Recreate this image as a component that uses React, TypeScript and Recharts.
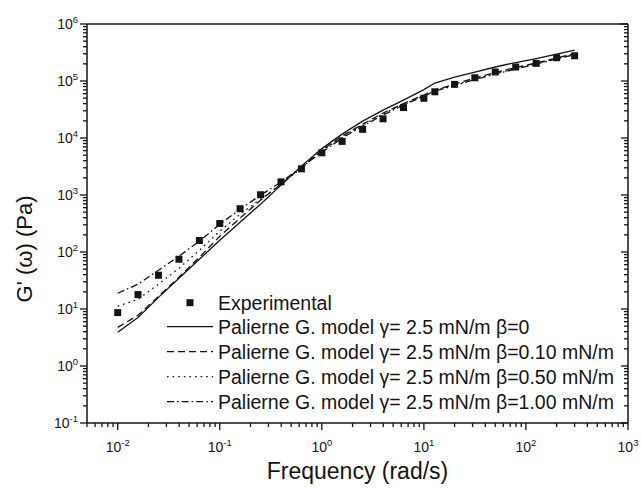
import { ComposedChart, Line, Scatter, XAxis, YAxis } from "recharts";

// angular frequency (rad/s)
const freq = [0.01, 0.0158, 0.0251, 0.0398, 0.0631, 0.1, 0.158, 0.251, 0.398, 0.631, 1, 1.58, 2.51, 3.98, 6.31, 10, 12.8, 20, 31.6, 50, 79.4, 126, 200, 300];

// G' (Pa)
const experimental = [8.65, 17.9, 39.1, 74.6, 159, 316, 575, 1010, 1700, 2880, 5500, 8710, 14200, 21700, 34200, 49800, 64700, 87300, 114000, 144000, 176000, 204000, 256000, 277000];
const beta0 = [3.9, 7.1, 16, 34.6, 74.6, 161, 333, 690, 1490, 3210, 6510, 11700, 19800, 30900, 46300, 70700, 92000, 117000, 143600, 176000, 211000, 248000, 297000, 349000];
const beta010 = [4.77, 7.74, 16.7, 36.1, 80.9, 189, 392, 811, 1550, 3080, 6120, 10800, 17500, 27400, 40200, 56600, 69300, 88300, 113000, 141000, 172000, 207000, 253000, 303000];
const beta050 = [11.2, 14.8, 27.2, 51.9, 107, 232, 461, 845, 1550, 2960, 5890, 10400, 16800, 26200, 39400, 55500, 67900, 84900, 108000, 135000, 165000, 199000, 248000, 297000];
const beta100 = [18.9, 27.2, 47.9, 84.3, 155, 307, 564, 993, 1680, 3080, 5650, 9950, 16200, 25200, 37800, 54400, 66600, 83200, 106000, 132000, 162000, 199000, 243000, 291000];

const legendNames = [
  "Experimental",
  "Palierne G. model γ= 2.5 mN/m β=0",
  "Palierne G. model γ= 2.5 mN/m β=0.10 mN/m",
  "Palierne G. model γ= 2.5 mN/m β=0.50 mN/m",
  "Palierne G. model γ= 2.5 mN/m β=1.00 mN/m",
];

const xDomain = [0.005, 1000];
const yDomain = [0.1, 1000000];
const xDecades = [-3, -2, -1, 0, 1, 2];
const yDecades = [-1, 0, 1, 2, 3, 4, 5];

const FONT = "'Liberation Sans', Arial, Helvetica, sans-serif";
const INK = "#141414";

const models = [
  { key: "b0", dash: undefined },
  { key: "b010", dash: "7 4" },
  { key: "b050", dash: "1.6 4" },
  { key: "b100", dash: "7 3 1.6 3" },
];

const data = freq.map((x, i) => ({
  x,
  exp: experimental[i],
  b0: beta0[i],
  b010: beta010[i],
  b050: beta050[i],
  b100: beta100[i],
}));

function logTicks(decades: number[], lo: number, hi: number) {
  const out: number[] = [];
  decades.forEach((d) => {
    for (let m = 1; m <= 9; m++) {
      const v = Number((m * Math.pow(10, d)).toPrecision(3));
      if (v >= lo - 1e-12 && v <= hi + 1e-9) out.push(v);
    }
  });
  out.push(hi);
  return Array.from(new Set(out));
}

const xTicks = logTicks(xDecades, xDomain[0], xDomain[1]);
const yTicks = logTicks(yDecades, yDomain[0], yDomain[1]);

function isMajor(v: number) {
  const l = Math.log10(v);
  return Math.abs(l - Math.round(l)) < 1e-6;
}

function Pow10({ x, y, exp, anchor }: any) {
  return (
    <text x={x} y={y} textAnchor={anchor} fontFamily={FONT} fill={INK} fontSize={14}>
      <tspan>10</tspan>
      <tspan dy={-6.5} fontSize={9.5}>{exp}</tspan>
    </text>
  );
}

function makeTick(side: "bottom" | "top" | "left" | "right") {
  return (props: any) => {
    const { x, y, payload } = props;
    const v = payload.value;
    const major = isMajor(v);
    const len = major ? 7 : 4;
    const exp = String(Math.round(Math.log10(v)));
    if (side === "bottom") {
      return (
        <g>
          <line x1={x} x2={x} y1={y} y2={y + len} stroke={INK} strokeWidth={1.3} />
          {major && v > xDomain[0] && <Pow10 x={x} y={y + 29} exp={exp} anchor="middle" />}
        </g>
      );
    }
    if (side === "top") {
      return <line x1={x} x2={x} y1={y} y2={y + len} stroke={INK} strokeWidth={1.3} />;
    }
    if (side === "left") {
      return (
        <g>
          <line x1={x - len} x2={x} y1={y} y2={y} stroke={INK} strokeWidth={1.3} />
          {major && <Pow10 x={x - 9} y={y + 5} exp={exp} anchor="end" />}
        </g>
      );
    }
    return <line x1={x - len} x2={x} y1={y} y2={y} stroke={INK} strokeWidth={1.3} />;
  };
}

const square = (p: any) => <rect x={p.cx - 3.5} y={p.cy - 3.5} width={7} height={7} fill={INK} />;

const axisLine = { stroke: INK, strokeWidth: 1.5 };

function Legend() {
  const rowY = [302.7, 326.7, 351.7, 376.7, 401.7];
  return (
    <svg width={641} height={489} style={{ position: "absolute", left: 0, top: 0, pointerEvents: "none" }}>
      {legendNames.map((name, i) => (
        <g key={name}>
          {i === 0 ? (
            <rect x={186.5} y={rowY[i] - 3.5} width={7} height={7} fill={INK} />
          ) : (
            <line x1={167} x2={213} y1={rowY[i]} y2={rowY[i]} stroke={INK} strokeWidth={1.3} strokeDasharray={models[i - 1].dash} />
          )}
          <text x={218} y={rowY[i] + 7} fontFamily={FONT} fontSize={19.5} fill={INK}>
            {name}
          </text>
        </g>
      ))}
    </svg>
  );
}

export default function App() {
  return (
    <div style={{ position: "absolute", left: 0, top: 0, width: 641, height: 489, background: "#fff" }}>
      <ComposedChart width={641} height={489} data={data} margin={{ top: 14, right: 3, bottom: 36, left: 27 }}>
        <XAxis
          dataKey="x"
          type="number"
          scale="log"
          domain={xDomain}
          ticks={xTicks}
          interval={0}
          allowDataOverflow
          height={30}
          tickSize={0}
          tickMargin={0}
          tickLine={false}
          axisLine={axisLine}
          tick={makeTick("bottom")}
        />
        <XAxis
          xAxisId="top"
          orientation="top"
          type="number"
          scale="log"
          domain={xDomain}
          ticks={xTicks}
          interval={0}
          allowDataOverflow
          height={10}
          tickSize={0}
          tickMargin={0}
          tickLine={false}
          axisLine={axisLine}
          tick={makeTick("top")}
        />
        <YAxis
          type="number"
          scale="log"
          domain={yDomain}
          ticks={yTicks}
          interval={0}
          allowDataOverflow
          width={60}
          tickSize={0}
          tickMargin={0}
          tickLine={false}
          axisLine={axisLine}
          tick={makeTick("left")}
        />
        <YAxis
          yAxisId="right"
          orientation="right"
          type="number"
          scale="log"
          domain={yDomain}
          ticks={yTicks}
          interval={0}
          allowDataOverflow
          width={10}
          tickSize={0}
          tickMargin={0}
          tickLine={false}
          axisLine={axisLine}
          tick={makeTick("right")}
        />
        {models.map((m) => (
          <Line
            key={m.key}
            dataKey={m.key}
            type="linear"
            stroke={INK}
            strokeWidth={1.3}
            strokeDasharray={m.dash}
            dot={false}
            activeDot={false}
            isAnimationActive={false}
          />
        ))}
        <Scatter dataKey="exp" shape={square} isAnimationActive={false} />
        <text x={357.5} y={479} textAnchor="middle" fontFamily={FONT} fontSize={23} fill={INK}>
          Frequency (rad/s)
        </text>
        <text transform="translate(31.5,249) rotate(-90)" textAnchor="middle" fontFamily={FONT} fontSize={22} fill={INK}>
          G' (ω)  (Pa)
        </text>
      </ComposedChart>
      <Legend />
    </div>
  );
}
